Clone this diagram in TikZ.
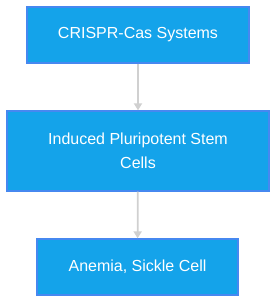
\documentclass[tikz,border=0pt]{standalone}
\usepackage{fontspec}
\setmainfont{Liberation Sans}
\usepackage{tikz}
\usetikzlibrary{arrows.meta,positioning}
\definecolor{boxfill}{RGB}{20,163,234}
\definecolor{boxline}{RGB}{70,136,240}
\definecolor{linkgray}{RGB}{208,208,208}

\begin{document}
\begin{tikzpicture}[x=1pt,y=1pt,
    stagebox/.style={draw=boxline,line width=1.3pt,fill=boxfill,text=white,
                     align=center,inner sep=0pt,
                     font=\fontsize{16}{24}\selectfont},
    link/.style={draw=linkgray,line width=1.8pt,
                 -{Triangle[length=7pt,width=8pt]},color=linkgray}]
  \useasboundingbox (0,0) rectangle (276,302);
  % three stages, top to bottom
  \node[stagebox,minimum width=222,minimum height=56] (crispr) at (138,267) {CRISPR-Cas Systems};
  \node[stagebox,minimum width=262,minimum height=80] (ipsc) at (138,151) {Induced Pluripotent Stem\\Cells};
  \node[stagebox,minimum width=201,minimum height=56] (anemia) at (137.5,35) {Anemia, Sickle Cell};
  % links
  \draw[link] (crispr) -- (ipsc);
  \draw[link] (ipsc) -- (anemia);
\end{tikzpicture}
\end{document}
